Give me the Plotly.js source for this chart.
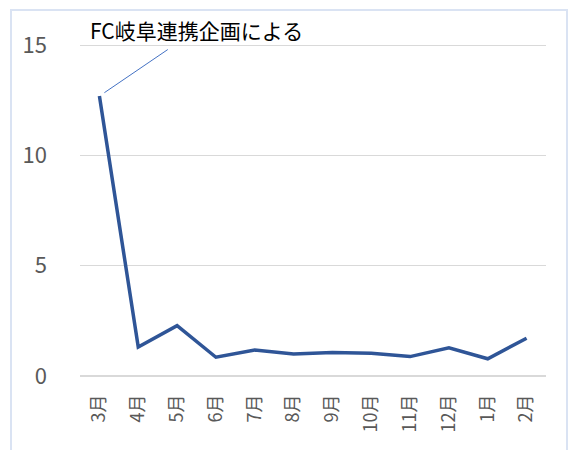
<!DOCTYPE html>
<html>
<head>
<meta charset="utf-8">
<script src="https://cdn.plot.ly/plotly-3.0.1.min.js"></script>
<style>
html,body{margin:0;padding:0;background:#fff;}
#wrap{position:relative;width:572px;height:450px;overflow:hidden;}
#chart{position:absolute;left:0;top:0;width:572px;height:450px;}
#frame{position:absolute;left:10px;top:9px;width:554px;height:460px;border:2px solid #dae3f3;pointer-events:none;}
</style>
</head>
<body>
<div id="wrap"><div id="chart"></div><div id="frame"></div></div>
<script>
const months = ["3月","4月","5月","6月","7月","8月","9月","10月","11月","12月","1月","2月"];
const values = [12.69, 1.31, 2.28, 0.85, 1.18, 1.0, 1.07, 1.03, 0.88, 1.28, 0.78, 1.71];
const yTicks = [0, 5, 10, 15];
const noteText = "FC岐阜連携企画による";

const font = '"Noto Sans CJK JP", "Noto Sans", sans-serif';

Plotly.newPlot('chart', [{
  x: months, y: values, type: 'scatter', mode: 'lines',
  line: {color: '#2f5597', width: 3.5}, hoverinfo: 'skip'
}], {
  width: 572, height: 450,
  margin: {l: 80, r: 26, t: 44, b: 74},
  paper_bgcolor: '#fff', plot_bgcolor: '#fff',
  showlegend: false,
  xaxis: {
    type: 'category', range: [-0.5, months.length - 0.5], tickangle: -90,
    showgrid: false, zeroline: false, showline: false,
    ticks: '', ticklabelstandoff: 14,
    tickfont: {family: font, size: 18, color: '#595959'}
  },
  yaxis: {
    range: [0, 15.05], tickvals: yTicks, ticktext: yTicks.map(String),
    showgrid: true, gridcolor: '#d9d9d9', gridwidth: 1,
    zeroline: true, zerolinecolor: '#d9d9d9', zerolinewidth: 2,
    showline: false, ticks: '', ticklabelstandoff: 32,
    tickfont: {family: font, size: 22, color: '#595959'}
  },
  annotations: [{
    x: months[0], y: values[0], xref: 'x', yref: 'y',
    text: noteText, showarrow: true, arrowhead: 0, arrowwidth: 1, arrowcolor: '#4472c4',
    ax: 97, ay: -66, standoff: 6, borderpad: 4,
    font: {family: font, size: 21, color: '#000'}
  }]
}, {displayModeBar: false, staticPlot: true});
</script>
</body>
</html>
